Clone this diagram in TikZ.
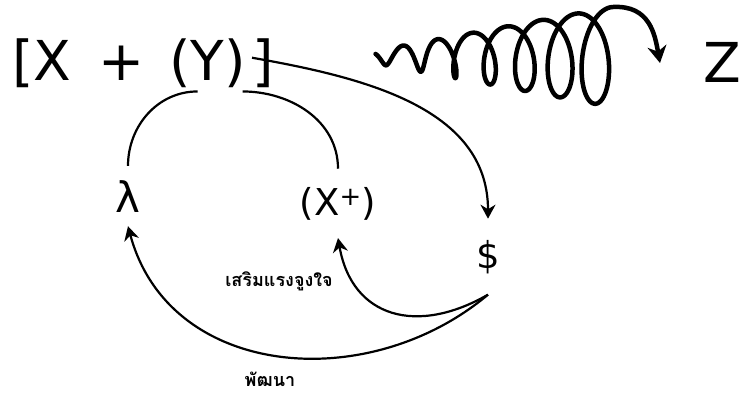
\documentclass[tikz,border=0pt]{standalone}
\usepackage{fontspec}
\setmainfont{DejaVu Sans}
\newfontfamily\thaifont[Script=Thai]{Loma}
\usetikzlibrary{arrows.meta}

\begin{document}
\begin{tikzpicture}[
  x=1pt, y=-1pt,
  big/.style={
    font=\fontsize{55}{60}\selectfont,
    inner xsep=0pt,
    inner ysep=4pt,
    anchor=base west
  },
  term/.style={
    font=\fontsize{37}{42}\selectfont,
    inner xsep=0pt,
    inner ysep=18pt,
    anchor=base
  },
  link/.style={line width=2.2pt},
  rel/.style={link, -{Stealth[length=14pt,width=15pt]}},
  spring/.style={line width=4.5pt, line cap=round, line join=round, -{Stealth[length=17pt,width=19pt]}},
  thailabel/.style={font=\thaifont\bfseries\fontsize{18}{20}\selectfont, inner sep=0pt}
]
\useasboundingbox (0,0) rectangle (740,394);

% top line
\node[big] (xplus) at (12,80) {[X\hspace{0.5em}+};
\node[big] (yy) at ([xshift=24pt]xplus.base east) {(Y)};
\node[big] (rb) at ([xshift=6pt]yy.base east) {]};
\node[big, anchor=base] (zz) at (722,82) {Z};

% terms
\node[term, font=\fontsize{42}{46}\selectfont, inner ysep=14pt] (lam) at (128,212) {λ};
\node[term] (xp) at (338,215) {(X\textsuperscript{+})};
\node[term, inner ysep=21pt] (dol) at (488,268) {\$};

% labels
\node[thailabel] (motiv) at (279,281) {เสริมแรงจูงใจ};
\node[thailabel] (devel) at (270,379) {พัฒนา};

% coil towards Z
\coordinate (springtip) at (660,63);
\draw[spring] plot[domain=60:2520, samples=700, variable=\t]
  ({368 + 5.57*rad(\t) + max(2, -11.1 + 66*(\t/2520) - 32.9*(\t/2520)^2)*sin(\t)},
   {57 - (5+\t/56)*cos(\t)})
  .. controls (650,5) and (655,35) .. (springtip);

% connectors
\draw[link] ([xshift=-10pt]yy.south) to[out=180, in=90] (lam.north);
\draw[link] ([xshift=35pt]yy.south) to[out=0, in=90] (xp.north);
\draw[rel] ([yshift=5pt]rb.west) to[out=-10, in=90] (dol.north);
\draw[rel] (dol.south) to[out=-150, in=-80, looseness=1.3] (xp.south);
\draw[rel] (dol.south) to[out=-140, in=-75, looseness=1.1] (lam.south);

\end{tikzpicture}
\end{document}
